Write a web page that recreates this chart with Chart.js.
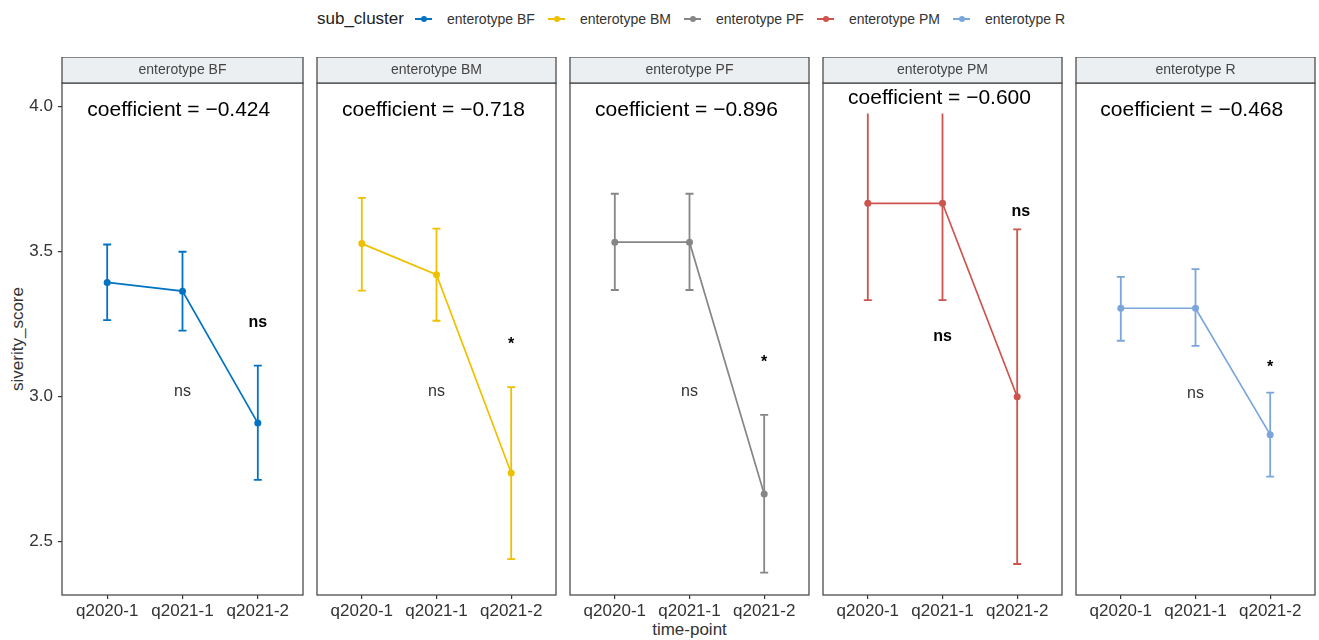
<!DOCTYPE html>
<html><head><meta charset="utf-8">
<script src="https://cdn.jsdelivr.net/npm/chart.js@4.4.1/dist/chart.umd.min.js"></script>
<style>
body{margin:0;background:#fff;width:1319px;height:640px;overflow:hidden;position:relative;font-family:"Liberation Sans",Arial,sans-serif;color:#333;}
canvas{position:absolute;}
#legend{position:absolute;left:317px;top:5px;height:28px;display:flex;align-items:center;white-space:nowrap;color:#222;}
#legend .title{font-size:17px;margin-right:11.5px;}
#legend .key{position:relative;width:17px;height:10px;margin-right:14.5px;}
#legend .key .ln{position:absolute;left:0;top:4.25px;width:17px;height:1.5px;}
#legend .key .dt{position:absolute;left:5.5px;top:1.5px;width:6px;height:6px;border-radius:50%;}
#legend .txt{font-size:14px;margin-right:13.5px;color:#333;}
#ylab{position:absolute;left:18px;top:339px;transform:translate(-50%,-50%) rotate(-90deg);font-size:17px;white-space:nowrap;}
#xlab{position:absolute;left:689.5px;top:630px;transform:translate(-50%,-50%);font-size:17px;white-space:nowrap;}
</style></head><body>
<div id="legend"></div>
<div id="ylab">siverity_score</div>
<div id="xlab">time-point</div>
<script>
// ---- data ----
const categories = ['q2020-1', 'q2021-1', 'q2021-2'];
const panelNames = ['enterotype BF', 'enterotype BM', 'enterotype PF', 'enterotype PM', 'enterotype R'];
const legendTitle = 'sub_cluster';
const colors = ['#0073C2', '#EFC000', '#868686', '#CD534C', '#7AA6DC'];

const meanBF = [3.394, 3.364, 2.909];
const lowBF  = [3.264, 3.228, 2.713];
const highBF = [3.525, 3.500, 3.107];

const meanBM = [3.528, 3.421, 2.737];
const lowBM  = [3.366, 3.262, 2.440];
const highBM = [3.686, 3.580, 3.033];

const meanPF = [3.533, 3.533, 2.664];
const lowPF  = [3.368, 3.368, 2.393];
const highPF = [3.700, 3.700, 2.937];

const meanPM = [3.667, 3.667, 3.000];
const lowPM  = [3.333, 3.333, 2.423];
const highPM = [4.000, 4.000, 3.577];

const meanR = [3.305, 3.305, 2.869];
const lowR  = [3.193, 3.175, 2.724];
const highR = [3.413, 3.440, 3.014];

const yTicks = [2.5, 3.0, 3.5, 4.0];
const yMin = 2.316, yMax = 4.082;
const errClipTop = 3.977;

const coefLabels = ['coefficient = \u22120.424', 'coefficient = \u22120.718', 'coefficient = \u22120.896', 'coefficient = \u22120.600', 'coefficient = \u22120.468'];
const coefX = [1.95, 1.96, 1.96, 1.96, 1.95];
const coefY = [3.989, 3.989, 3.989, 4.030, 3.989];

const sigTopLabels = ['ns', '*', '*', 'ns', '*'];
const sigTopX = [3, 3, 3, 3.05, 3];
const sigTopY = [3.257, 3.178, 3.116, 3.638, 3.099];
const sigMidLabels = ['ns', 'ns', 'ns', 'ns', 'ns'];
const sigMidBold = [false, false, false, true, false];
const sigMidY = [3.016, 3.016, 3.016, 3.209, 3.012];

const means = [meanBF, meanBM, meanPF, meanPM, meanR];
const lows = [lowBF, lowBM, lowPF, lowPM, lowR];
const highs = [highBF, highBM, highPF, highPM, highR];

// ---- legend ----
const lg = document.getElementById('legend');
lg.innerHTML = '<span class="title">' + legendTitle + '</span>' + panelNames.map((n, i) =>
  '<span class="key"><span class="ln" style="background:' + colors[i] + '"></span><span class="dt" style="background:' + colors[i] + '"></span></span><span class="txt">' + n + '</span>').join('');

Chart.defaults.font.family = '"Liberation Sans", Arial, sans-serif';

const FONT = '"Liberation Sans", Arial, sans-serif';
const TOP = 57, STRIP = 26, CANVAS_H = 573, XAXIS_H = 25, PAD_B = 10;

for (let i = 0; i < 5; i++) {
  const panelLeft = 62 + i * 253;
  const first = i === 0;
  const cv = document.createElement('canvas');
  const left = first ? 0 : panelLeft - 2;
  const width = first ? 307 : 247;
  cv.width = width; cv.height = CANVAS_H;
  cv.style.left = left + 'px'; cv.style.top = TOP + 'px';
  cv.style.width = width + 'px'; cv.style.height = CANVAS_H + 'px';
  document.body.appendChild(cv);

  const facetPlugin = {
    id: 'facet' + i,
    beforeDatasetsDraw(chart) {
      const ctx = chart.ctx, xs = chart.scales.x, ys = chart.scales.y, ca = chart.chartArea;
      ctx.save();
      ctx.beginPath();
      const clipY = ys.getPixelForValue(errClipTop);
      ctx.rect(ca.left, clipY, ca.right - ca.left, ca.bottom - clipY);
      ctx.clip();
      ctx.strokeStyle = colors[i];
      ctx.lineWidth = 1.8;
      for (let j = 0; j < categories.length; j++) {
        const x = xs.getPixelForValue(j + 1);
        const yl = ys.getPixelForValue(lows[i][j]);
        const yh = ys.getPixelForValue(highs[i][j]);
        ctx.beginPath();
        ctx.moveTo(x, yl); ctx.lineTo(x, yh);
        ctx.moveTo(x - 4, yl); ctx.lineTo(x + 4, yl);
        ctx.moveTo(x - 4, yh); ctx.lineTo(x + 4, yh);
        ctx.stroke();
      }
      ctx.restore();
    },
    afterDraw(chart) {
      const ctx = chart.ctx, xs = chart.scales.x, ys = chart.scales.y, ca = chart.chartArea;
      ctx.save();
      // panel border
      ctx.strokeStyle = '#4d4d4d';
      ctx.lineWidth = 1.3;
      ctx.strokeRect(ca.left, ca.top, ca.right - ca.left, ca.bottom - ca.top);
      // strip
      ctx.fillStyle = '#eceff2';
      ctx.fillRect(ca.left, ca.top - STRIP, ca.right - ca.left, STRIP);
      ctx.strokeRect(ca.left, ca.top - STRIP, ca.right - ca.left, STRIP);
      ctx.fillStyle = '#444';
      ctx.font = '14px ' + FONT;
      ctx.textAlign = 'center'; ctx.textBaseline = 'middle';
      ctx.fillText(panelNames[i], (ca.left + ca.right) / 2, ca.top - STRIP / 2 + 0.5);
      // coefficient
      ctx.fillStyle = '#000';
      ctx.font = '21px ' + FONT;
      ctx.fillText(coefLabels[i], xs.getPixelForValue(coefX[i]), ys.getPixelForValue(coefY[i]));
      // significance
      ctx.font = 'bold 16px ' + FONT;
      ctx.fillText(sigTopLabels[i], xs.getPixelForValue(sigTopX[i]), ys.getPixelForValue(sigTopY[i]));
      ctx.font = (sigMidBold[i] ? 'bold ' : '') + '16px ' + FONT;
      ctx.fillStyle = sigMidBold[i] ? '#000' : '#333';
      ctx.fillText(sigMidLabels[i], xs.getPixelForValue(2), ys.getPixelForValue(sigMidY[i]));
      ctx.restore();
    }
  };

  new Chart(cv, {
    type: 'line',
    data: {
      datasets: [{
        label: panelNames[i],
        data: means[i].map((v, j) => ({ x: j + 1, y: v })),
        borderColor: colors[i],
        backgroundColor: colors[i],
        pointBackgroundColor: colors[i],
        pointBorderColor: colors[i],
        pointRadius: 3.5,
        pointBorderWidth: 0,
        borderWidth: 1.7,
        tension: 0
      }]
    },
    options: {
      responsive: false,
      animation: false,
      layout: { padding: { left: first ? 0 : 2, right: 2, top: STRIP, bottom: PAD_B } },
      plugins: { legend: { display: false }, tooltip: { enabled: false } },
      scales: {
        x: {
          type: 'linear', min: 0.4, max: 3.6,
          afterBuildTicks: s => { s.ticks = categories.map((c, j) => ({ value: j + 1 })); },
          afterFit: s => { s.height = XAXIS_H; },
          ticks: { callback: v => categories[v - 1], font: { size: 17 }, color: '#333', padding: 2, maxRotation: 0, autoSkip: false },
          grid: { drawOnChartArea: false, drawTicks: true, tickLength: 4, color: '#333', lineWidth: 1.2 },
          border: { display: false }
        },
        y: {
          display: first,
          min: yMin, max: yMax,
          afterBuildTicks: s => { s.ticks = yTicks.map(v => ({ value: v })); },
          afterFit: s => { s.width = first ? 62 : 0; },
          ticks: { callback: v => v.toFixed(1), font: { size: 17 }, color: '#333', padding: 5 },
          grid: { drawOnChartArea: false, drawTicks: true, tickLength: 4, color: '#333', lineWidth: 1.2 },
          border: { display: false }
        }
      }
    },
    plugins: [facetPlugin]
  });
}
</script>
</body></html>
